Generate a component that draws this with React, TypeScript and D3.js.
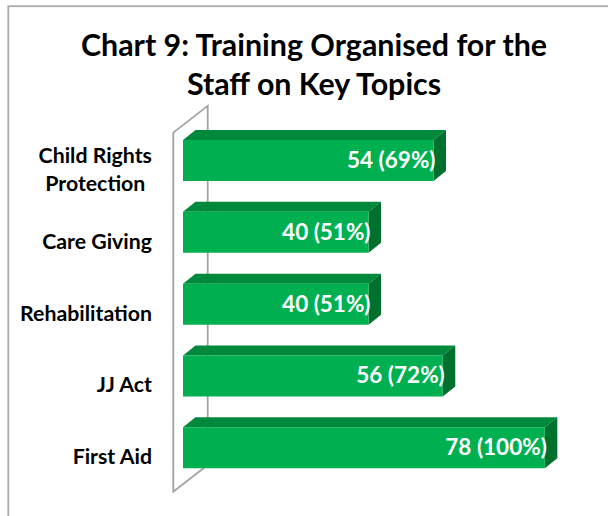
import React, { useLayoutEffect, useRef } from "react";
import * as d3 from "d3";

const categories: string[][] = [
  ["Child Rights", "Protection"],
  ["Care Giving"],
  ["Rehabilitation"],
  ["JJ Act"],
  ["First Aid"],
];
const values: number[] = [54, 40, 40, 56, 78];
const percents: number[] = [69, 51, 51, 72, 100];
const titleLines: string[] = ["Chart 9: Training Organised for the", "Staff on Key Topics"];

const W = 608;
const H = 516;
const FONT = "Lato, 'Open Sans', sans-serif";
const LABEL_RIGHT = 152;

export default function App() {
  const svgRef = useRef<SVGSVGElement | null>(null);

  useLayoutEffect(() => {
    const svg = svgRef.current;
    if (!svg) return;
    // Multi-line category labels: lines centred on each other, block right-aligned.
    d3.select(svg)
      .selectAll<SVGTextElement, unknown>("text.cat-multi")
      .each(function () {
        const el = this as SVGTextElement;
        const group = el.getAttribute("data-group");
        const siblings = Array.from(
          svg.querySelectorAll<SVGTextElement>(`text.cat-multi[data-group="${group}"]`)
        );
        const maxW = d3.max(siblings, (s) => s.getComputedTextLength()) || 0;
        el.setAttribute("x", String(LABEL_RIGHT - maxW / 2));
      });
  });

  const keys = categories.map((c) => c.join(" "));
  const y = d3
    .scaleBand<string>()
    .domain(keys)
    .range([124.6, 483.7])
    .paddingInner(0.429)
    .paddingOuter(0.2145);
  const x = d3.scaleLinear().domain([0, 90]).range([183, 600.5]);

  const dx = 12.5;
  const dy = 10;

  const [r0, r1] = y.range();
  const wallFrontX = x(0) - 9.7;
  const wallTop = r0 + 8;
  const wallBottom = r1 + 8;
  const wdx = 34.4;
  const wdy = 26.7;
  const wallPath = d3.path();
  wallPath.moveTo(wallFrontX + wdx, wallTop - wdy);
  wallPath.lineTo(wallFrontX, wallTop);
  wallPath.lineTo(wallFrontX, wallBottom);
  wallPath.lineTo(wallFrontX + wdx, wallBottom - wdy);
  wallPath.closePath();

  return (
    <svg
      ref={svgRef}
      width={W}
      height={H}
      style={{ position: "absolute", left: 0, top: 0, background: "#fff" }}
      fontFamily={FONT}
    >
      <rect x={0} y={0} width={W} height={H} fill="#fff" />
      <rect x={8.3} y={6.2} width={800} height={700} fill="none" stroke="#ababab" strokeWidth={1.8} />
      {titleLines.map((t, i) => (
        <text
          key={i}
          x={314}
          y={56 + i * 39}
          textAnchor="middle"
          fontSize={30.4}
          fontWeight={700}
          fill="#000"
        >
          {t}
        </text>
      ))}
      <path d={wallPath.toString()} fill="none" stroke="#a3a3a3" strokeWidth={1.8} strokeLinejoin="miter" />
      {keys.map((k, i) => {
        const v = values[i];
        const top = y(k)!;
        const bh = y.bandwidth();
        const x0 = x(0);
        const x1 = x(v);
        const front = `M${x0},${top}H${x1}V${top + bh}H${x0}Z`;
        const topFace = `M${x0},${top}L${x0 + dx},${top - dy}H${x1 + dx}L${x1},${top}Z`;
        const side = `M${x1},${top}L${x1 + dx},${top - dy}V${top + bh - dy}L${x1},${top + bh}Z`;
        const cy = top + bh / 2;
        const lines = categories[i];
        const multi = lines.length > 1;
        const lh = 27.5;
        return (
          <g key={k}>
            <path d={topFace} fill="#00883c" />
            <path d={side} fill="#00702f" />
            <path d={front} fill="#00b050" />
            <text
              x={x1 + 2}
              y={cy + 7.5}
              textAnchor="end"
              fontSize={22.5}
              fontWeight={700}
              fill="#fff"
            >
              {`${v} (${percents[i]}%)`}
            </text>
            {lines.map((ln, j) => (
              <text
                key={j}
                className={multi ? "cat-multi" : "cat"}
                data-group={i}
                x={multi ? LABEL_RIGHT - 55 : LABEL_RIGHT}
                y={cy + 16.5 - ((lines.length - 1) * lh) / 2 + j * lh}
                textAnchor={multi ? "middle" : "end"}
                fontSize={21.3}
                fontWeight={700}
                fill="#000"
              >
                {ln}
              </text>
            ))}
          </g>
        );
      })}
    </svg>
  );
}
